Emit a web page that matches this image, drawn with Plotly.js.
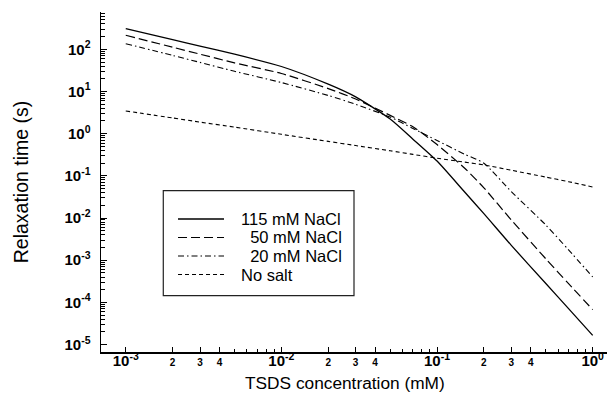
<!DOCTYPE html>
<html>
<head>
<meta charset="utf-8">
<script src="https://cdn.plot.ly/plotly-3.0.1.min.js"></script>
<style>
  html, body { margin: 0; padding: 0; background: #fff; }
  #chart { width: 608px; height: 404px; }
</style>
</head>
<body>
<div id="chart"></div>
<script>
// TSDS concentration (mM)
const concentration = [0.001, 0.002, 0.003, 0.005, 0.01, 0.02, 0.03, 0.05, 0.07, 0.1, 0.15, 0.2, 0.3, 0.5, 0.7, 1.0];

// Relaxation time (s) for each salt condition
const nacl115 = [310, 169, 119, 76.6, 39.1, 14.9, 7.45, 2.22, 0.74, 0.224, 0.0419, 0.0127, 0.00225, 2.81e-4, 7.11e-5, 1.66e-5];
const nacl50  = [215, 112, 76.6, 47.6, 26.7, 11.7, 6.64, 2.71, 1.46, 0.551, 0.154, 0.0521, 0.0090, 0.00108, 2.78e-4, 6.76e-5];
const nacl20  = [136, 71.6, 48.9, 30.1, 16.3, 8.04, 4.97, 2.47, 1.33, 0.689, 0.327, 0.199, 0.0424, 0.00684, 0.00176, 4.01e-4];
const noSalt  = [3.45, 2.36, 1.88, 1.43, 0.966, 0.656, 0.522, 0.393, 0.323, 0.262, 0.212, 0.182, 0.136, 0.0935, 0.0728, 0.0545];

const seriesNames = ['115 mM NaCl', '50 mM NaCl', '20 mM NaCl', 'No salt'];
const legendLabels = ['115 mM NaCl', '\u00A0\u00A050 mM NaCl', '\u00A0\u00A020 mM NaCl', 'No salt'];

// Axis ticks
const xTickVals = [0.001, 0.002, 0.003, 0.004, 0.01, 0.02, 0.03, 0.04, 0.1, 0.2, 0.3, 0.4, 1];
const xTickText = ['10<sup>-3</sup>', '2', '3', '4', '10<sup>-2</sup>', '2', '3', '4', '10<sup>-1</sup>', '2', '3', '4', '10<sup>0</sup>'];
const yTickVals = [1e-5, 1e-4, 1e-3, 1e-2, 1e-1, 1, 10, 100];
const yTickText = ['10<sup>-5</sup>', '10<sup>-4</sup>', '10<sup>-3</sup>', '10<sup>-2</sup>', '10<sup>-1</sup>', '10<sup>0</sup>', '10<sup>1</sup>', '10<sup>2</sup>'];

const xTitle = 'TSDS concentration (mM)';
const yTitle = 'Relaxation time (s)';

const FONT = 'Liberation Sans, Arial, Helvetica, sans-serif';
const dashes = ['solid', '9px,4px', '6px,3px,1.5px,3px', '4px,3px'];
const widths = [1.3, 1.2, 1.1, 1.1];

// small labels for 2, 3, 4 within each decade
const xTickLabels = xTickText.map(t => t.indexOf('<sup>') >= 0 ? t : '<span style="font-size:10px">' + t + '</span>');

// minor tick positions between decades
function minorTicks(lo, hi, mults) {
  const out = [];
  for (let e = lo; e <= hi; e++) {
    for (const m of mults) out.push(m * Math.pow(10, e));
  }
  return out;
}

const ys = [nacl115, nacl50, nacl20, noSalt];
const traces = ys.map((y, i) => ({
  type: 'scatter',
  mode: 'lines',
  name: seriesNames[i],
  x: concentration,
  y: y,
  line: { color: '#000', width: widths[i], dash: dashes[i], shape: 'spline', smoothing: 0.6 },
  showlegend: false,
  hoverinfo: 'skip'
}));

// Legend box drawn in paper coordinates
const shapes = [{
  type: 'rect', xref: 'paper', yref: 'paper',
  x0: 0.1231, x1: 0.5, y0: 0.1656, y1: 0.4744,
  line: { color: '#222', width: 1.2 }, fillcolor: 'rgba(0,0,0,0)'
}];
const rowY = [0.3912, 0.3368, 0.2824, 0.2279];
const annotations = [];
rowY.forEach((yy, i) => {
  shapes.push({
    type: 'line', xref: 'paper', yref: 'paper',
    x0: 0.1522, x1: 0.2431, y0: yy, y1: yy,
    line: { color: '#000', width: widths[i], dash: dashes[i] }
  });
  annotations.push({
    xref: 'paper', yref: 'paper', x: 0.272, y: yy,
    xanchor: 'left', yanchor: 'middle', showarrow: false,
    text: legendLabels[i],
    font: { family: FONT, size: 16.5, color: '#000' }
  });
});

// x-axis title, placed slightly left of the plot centre
annotations.push({
  xref: 'paper', yref: 'paper', x: 0.483, y: -0.091,
  xanchor: 'center', yanchor: 'middle', showarrow: false,
  text: xTitle,
  font: { family: FONT, size: 17.3, color: '#000' }
});

const layout = {
  width: 608, height: 404,
  margin: { l: 101, r: 1, t: 12, b: 52 },
  paper_bgcolor: '#fff', plot_bgcolor: '#fff',
  font: { family: FONT, color: '#000' },
  xaxis: {
    type: 'log', range: [-3.159, 0.092],
    showline: true, linewidth: 2, linecolor: '#000',
    showgrid: false, zeroline: false,
    tickmode: 'array', tickvals: xTickVals, ticktext: xTickLabels,
    ticks: 'inside', ticklen: 5, tickwidth: 1, tickcolor: '#000',
    tickfont: { family: FONT, size: 15, color: '#000', weight: 'bold' },
    ticklabelstandoff: -6,
    minor: { tickmode: 'array', tickvals: minorTicks(-3, -1, [5, 6, 7, 8, 9]), ticks: 'inside', ticklen: 3, tickwidth: 1, tickcolor: '#000' }
  },
  yaxis: {
    type: 'log', range: [-5.175, 2.884],
    showline: true, linewidth: 1.5, linecolor: '#000',
    showgrid: false, zeroline: false,
    tickmode: 'array', tickvals: yTickVals, ticktext: yTickText,
    ticks: 'inside', ticklen: 6, tickwidth: 1, tickcolor: '#000',
    tickfont: { family: FONT, size: 15, color: '#000', weight: 'bold' },
    ticklabelstandoff: 6,
    minor: { tickmode: 'array', tickvals: minorTicks(-5, 2, [2, 3, 4, 5, 6, 7, 8, 9]), ticks: 'inside', ticklen: 4, tickwidth: 1, tickcolor: '#000' },
    title: { text: yTitle, font: { family: FONT, size: 19.5, color: '#000' }, standoff: 30 }
  },
  shapes: shapes,
  annotations: annotations
};

Plotly.newPlot('chart', traces, layout, { displayModeBar: false, staticPlot: true });
</script>
</body>
</html>
